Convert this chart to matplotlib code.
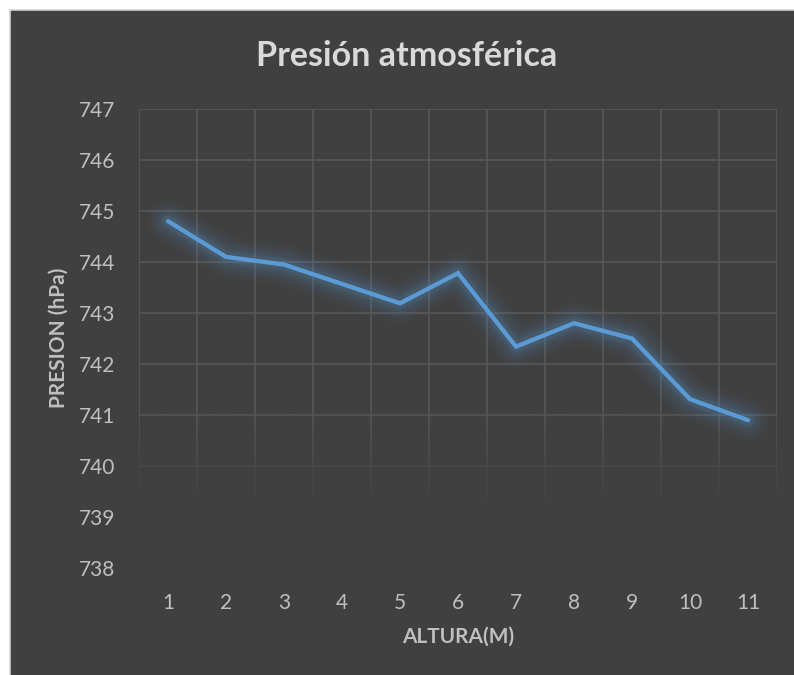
import numpy as np
import matplotlib
matplotlib.use("Agg")
import matplotlib.pyplot as plt
from matplotlib.patches import Rectangle

# Data
altura = [1, 2, 3, 4, 5, 6, 7, 8, 9, 10, 11]
presion = [744.8, 744.1, 743.95, 743.57, 743.19, 743.78, 742.34, 742.8, 742.5, 741.31, 740.9]
y_ticks = [738, 739, 740, 741, 742, 743, 744, 745, 746, 747]

BG = "#404040"
GRID = "#595959"
TXT = "#bfbfbf"
TITLE = "#d9d9d9"
LINE = "#5b9bd5"
FONT = "Lato"

W, H = 794, 675
fig = plt.figure(figsize=(W / 100, H / 100), dpi=100, facecolor="white")

# dark chart panel with a thin light frame (runs off the right and bottom edges)
fig.patches.append(Rectangle((10 / W, -0.05), 1.1, 1.05 - 10 / H, transform=fig.transFigure,
                             facecolor=BG, edgecolor="#d4d4d4", linewidth=1.2, zorder=-5))

ax = fig.add_axes([139 / W, 1 - 568 / H, (777 - 139) / W, (568 - 109) / H])
ax.set_zorder(1)
ax.patch.set_alpha(0)
for s in ax.spines.values():
    s.set_visible(False)

ax.set_xlim(0.5, len(altura) + 0.5)
ax.set_ylim(y_ticks[0], y_ticks[-1])

# gridlines: horizontal at values, vertical at category boundaries
for v in y_ticks:
    ax.axhline(v, color=GRID, lw=1.1, zorder=1)
for b in np.arange(0.5, len(altura) + 1, 1.0):
    ax.axvline(b, color=GRID, lw=1.1, zorder=1)

# fade the lower part of the grid into the background
yy = np.linspace(y_ticks[-1], y_ticks[0], 400)
a = np.clip((741.2 - yy) / (741.2 - 739.2), 0, 1) * 0.97
img = np.zeros((400, 2, 4))
img[..., :3] = matplotlib.colors.to_rgb(BG)
img[..., 3] = a[:, None]
ax.imshow(img, extent=[0.5, len(altura) + 0.5, y_ticks[0], y_ticks[-1]],
          aspect="auto", zorder=1.5, interpolation="bilinear")

# soft glow under the series line
for w, al in [(30, 0.03), (25, 0.04), (20, 0.05), (15, 0.06), (11, 0.08), (8, 0.10)]:
    ax.plot(altura, presion, color=LINE, lw=w, alpha=al, solid_capstyle="round",
            solid_joinstyle="round", zorder=2)
ax.plot(altura, presion, color=LINE, lw=3.1, solid_capstyle="round",
        solid_joinstyle="miter", zorder=3)

ax.set_xticks(altura)
ax.set_xticklabels([str(v) for v in altura])
ax.set_yticks(y_ticks)
ax.set_yticklabels([str(v) for v in y_ticks])
ax.tick_params(axis="both", length=0, colors=TXT, labelsize=15)
ax.tick_params(axis="y", pad=17)
ax.tick_params(axis="x", pad=18)
for lab in ax.get_xticklabels() + ax.get_yticklabels():
    lab.set_fontfamily(FONT)

fig.text(458 / W, 1 - 637 / H, "ALTURA(M)", ha="center", va="center",
         fontsize=15, fontweight="bold", color=TXT, family=FONT)
fig.text(59 / W, 1 - 338 / H, "PRESION (hPa)", ha="center", va="center", rotation=90,
         fontsize=15, fontweight="bold", color=TXT, family=FONT)

fig.text(0.5 * (255 + 558) / W, 1 - 56 / H, "Presión atmosférica", ha="center", va="center",
         fontsize=24.5, fontweight="bold", color=TITLE, family=FONT)

fig.savefig("out.png", dpi=100, facecolor=fig.get_facecolor())
